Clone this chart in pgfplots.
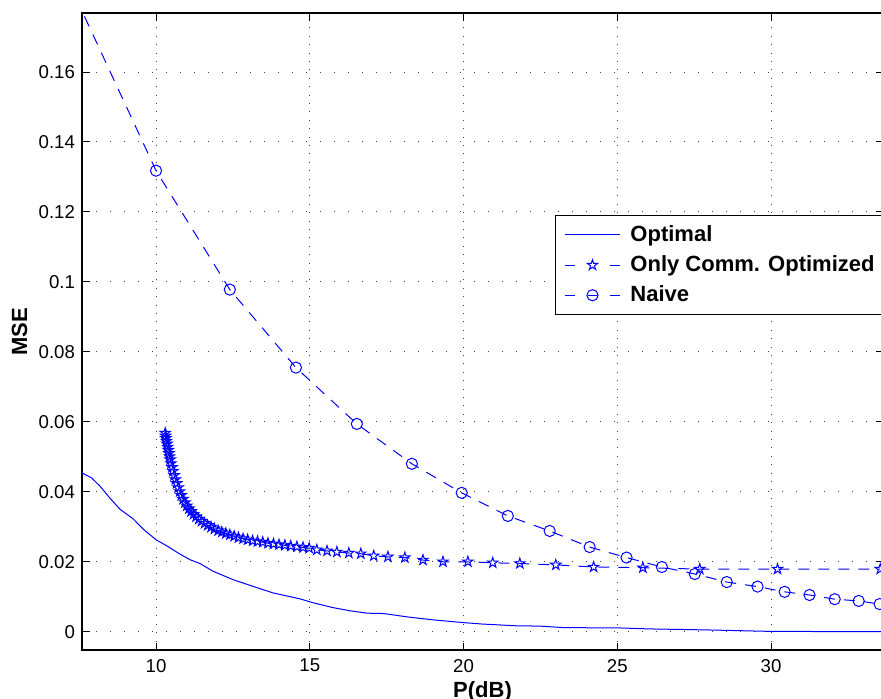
\documentclass[border=0pt]{standalone}
\usepackage{fontspec}
\setmainfont{Liberation Sans}
\usepackage{pgfplots}
\pgfplotsset{compat=1.18}

% MATLAB style five pointed star
\pgfdeclareplotmark{pentagram}{%
  \pgfpathmoveto{\pgfpointpolar{90}{\pgfplotmarksize}}%
  \pgfpathlineto{\pgfpointpolar{126}{0.382\pgfplotmarksize}}%
  \pgfpathlineto{\pgfpointpolar{162}{\pgfplotmarksize}}%
  \pgfpathlineto{\pgfpointpolar{198}{0.382\pgfplotmarksize}}%
  \pgfpathlineto{\pgfpointpolar{234}{\pgfplotmarksize}}%
  \pgfpathlineto{\pgfpointpolar{270}{0.382\pgfplotmarksize}}%
  \pgfpathlineto{\pgfpointpolar{306}{\pgfplotmarksize}}%
  \pgfpathlineto{\pgfpointpolar{342}{0.382\pgfplotmarksize}}%
  \pgfpathlineto{\pgfpointpolar{18}{\pgfplotmarksize}}%
  \pgfpathlineto{\pgfpointpolar{54}{0.382\pgfplotmarksize}}%
  \pgfpathclose
  \pgfusepathqstroke
}

\pgfplotsset{
  starleg/.style={legend image code/.code={
      \draw[##1,solid] (0pt,0pt) -- (5pt,0pt);
      \draw[##1,solid] (22.5pt,0pt) -- (27.5pt,0pt);
      \path[##1] plot coordinates {(13.75pt,0pt)};}},
  circleg/.style={legend image code/.code={
      \draw[##1,solid] (0pt,0pt) -- (5pt,0pt);
      \draw[##1,solid] (11.5pt,0pt) -- (16pt,0pt);
      \draw[##1,solid] (22.5pt,0pt) -- (27.5pt,0pt);
      \path[##1] plot coordinates {(13.75pt,0pt)};}},
}

\begin{document}
\begin{tikzpicture}
\begin{axis}[
    at={(0pt,0pt)}, anchor=south west,
    scale only axis,
    width=400.5pt, height=318.5pt,
    xmin=7.593, xmax=33.64,
    ymin=-0.00523, ymax=0.17687,
    xtick={10,15,20,25,30},
    ytick={0,0.02,0.04,0.06,0.08,0.1,0.12,0.14,0.16},
    yticklabel style={/pgf/number format/fixed, /pgf/number format/precision=2},
    xticklabel style={yshift=-1pt},
    /pgf/number format/assume math mode=true,
    tick label style={font=\fontsize{9.3}{11}\selectfont},
    tick align=inside,
    major tick length=3.75pt,
    tick style={black, line width=0.5pt},
    axis line style={black, line width=0.6pt},
    grid=major,
    x grid style={black!75, line width=0.5pt, dash pattern=on 0.5pt off 3.7pt},
    y grid style={black!75, line width=0.5pt, dash pattern=on 0.5pt off 6.5pt},
    xlabel={P(dB)},
    ylabel={MSE},
    label style={font=\bfseries\fontsize{11}{13}\selectfont, inner sep=0pt},
    xlabel style={at={(axis description cs:0.5,-0.0495)}, anchor=north},
    ylabel style={at={(axis description cs:-0.078,0.5)}, anchor=center},
    legend cell align=left,
    legend style={at={(0.5905,0.6829)}, anchor=north west,
        draw=black, line width=0.5pt,
        inner xsep=4.5pt, inner ysep=3.5pt,
        nodes={inner sep=1.5pt},
        row sep=2.6pt,
        font=\bfseries\fontsize{11}{13}\selectfont},
    /tikz/every odd column/.append style={column sep=3.5pt},
    legend image code/.code={\draw[#1] (0pt,0pt) -- (27.5pt,0pt);},
]
% Optimal
\addplot[blue, line width=0.5pt] coordinates {
(7.40,0.0460) (7.593,0.0454) (7.90,0.0440) (8.18,0.0416) (8.50,0.0382)
(8.83,0.0350) (9.25,0.0323) (9.60,0.0292) (10.00,0.0263) (10.36,0.0245)
(10.70,0.0226) (11.10,0.0206) (11.43,0.0195) (11.85,0.0173) (12.50,0.0149)
(13.28,0.0126) (13.80,0.0111) (14.68,0.0094) (15.10,0.0083) (15.75,0.0069)
(16.30,0.0060) (16.86,0.0053) (17.40,0.0052) (18.20,0.0042) (19.00,0.0034)
(20.00,0.0026) (20.60,0.0022) (21.70,0.0017) (22.50,0.0016) (23.20,0.0012)
(24.40,0.0011) (25.00,0.0011) (26.05,0.0008) (28.00,0.0005) (29.95,0.0001)
(33.64,0.0000)
};
\addlegendentry{Optimal}
% Only Comm. Optimized
\addplot[blue, line width=0.5pt, dash pattern=on 5.5pt off 4.5pt,
    mark=pentagram, mark size=2.7pt, mark options={solid}, starleg] coordinates {
(10.30,0.0568) (10.31,0.0560) (10.32,0.0553) (10.34,0.0545) (10.36,0.0537)
(10.38,0.0528) (10.40,0.0519) (10.42,0.0510) (10.44,0.0501) (10.46,0.0492)
(10.49,0.0481) (10.52,0.0470) (10.55,0.0459) (10.59,0.0447) (10.63,0.0435)
(10.67,0.0424) (10.72,0.0412) (10.77,0.0401) (10.82,0.0390) (10.88,0.0379)
(10.94,0.0369) (11.00,0.0360) (11.07,0.0352) (11.14,0.0344) (11.22,0.0336)
(11.30,0.0329) (11.39,0.0322) (11.48,0.0316) (11.58,0.0310) (11.68,0.0304)
(11.79,0.0299) (11.90,0.0294) (12.02,0.0289) (12.14,0.0285) (12.27,0.0281)
(12.40,0.0277) (12.54,0.0273) (12.68,0.0269) (12.83,0.0266) (12.98,0.0263)
(13.14,0.0260) (13.30,0.0258) (13.47,0.0256) (13.64,0.0253) (13.82,0.0251)
(14.00,0.0249) (14.19,0.0247) (14.38,0.0245) (14.58,0.0243) (14.78,0.0241)
(14.98,0.0239) (15.23,0.0234) (15.56,0.0231)
(15.88,0.0228) (16.27,0.0225) (16.66,0.0223) (17.08,0.0217) (17.54,0.0214)
(18.09,0.0212) (18.68,0.0205) (19.33,0.0200) (20.14,0.0200) (20.95,0.0197)
(21.83,0.0195) (23.00,0.0191) (24.23,0.0185) (25.83,0.0183) (27.68,0.0179)
(30.21,0.0179) (33.55,0.0179)
};
\addlegendentry{Only Comm. Optimized}
% Naive
\addplot[blue, line width=0.5pt, dash pattern=on 5.5pt off 4.5pt,
    mark=o, mark size=2.8pt, mark options={solid}, circleg] coordinates {
(7.40,0.1811) (10.00,0.1318) (12.40,0.0978) (14.55,0.0755) (16.53,0.0594)
(18.32,0.0480) (19.94,0.0397) (21.44,0.0331) (22.80,0.0288) (24.10,0.0242)
(25.30,0.0212) (26.45,0.0185) (27.52,0.0165) (28.56,0.0142) (29.56,0.0129)
(30.44,0.0114) (31.25,0.0105) (32.07,0.0093) (32.85,0.0088) (33.53,0.0079)
};
\addlegendentry{Naive}
\end{axis}
\pgfresetboundingbox
\path[use as bounding box] (-41pt,-24pt) rectangle (399.5pt,325pt);
\end{tikzpicture}
\end{document}
